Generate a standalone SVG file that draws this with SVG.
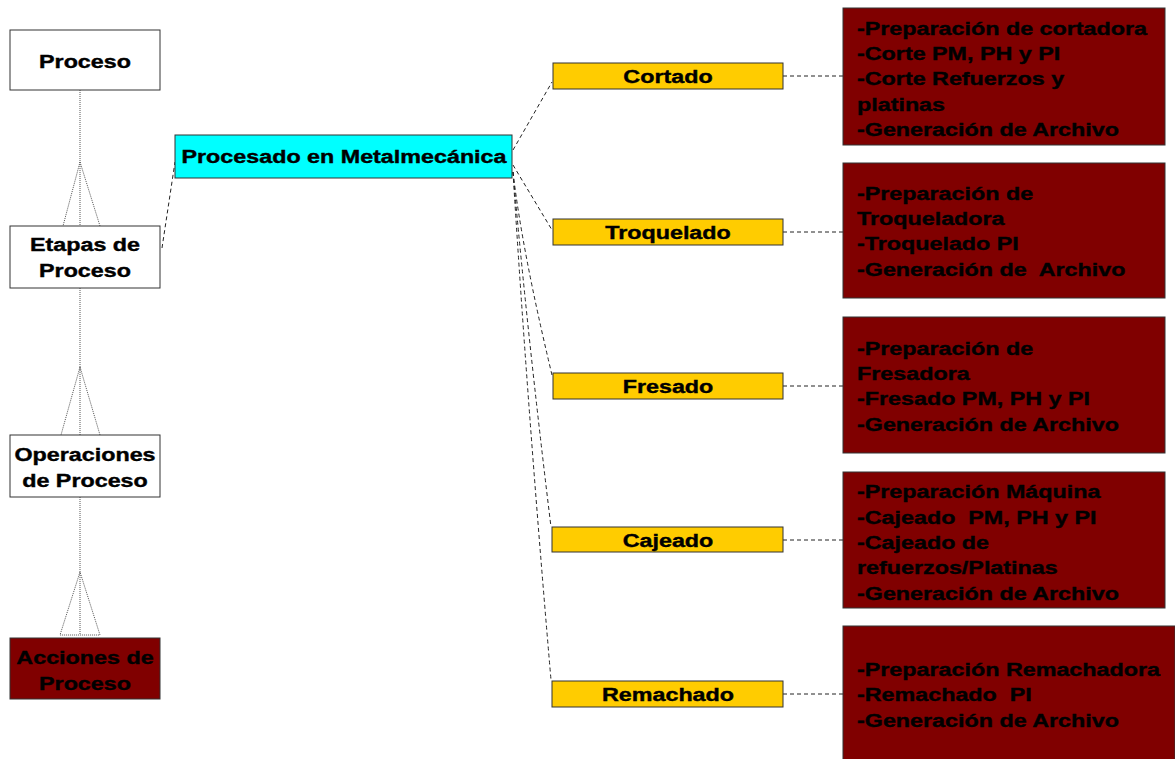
<svg xmlns="http://www.w3.org/2000/svg" width="1175" height="759" viewBox="0 0 1175 759">
  <style>
    .lbl { font-family: "Liberation Sans", Arial, sans-serif; font-weight: bold; font-size: 18.5px; fill: #000; stroke: #000; stroke-width: 0.4; }
    .mid { text-anchor: middle; }
    .white { fill: #fff; stroke: #333; stroke-width: 1; }
    .cyan { fill: #00ffff; stroke: #333; stroke-width: 1; }
    .yellow { fill: #ffcc00; stroke: #333; stroke-width: 1; }
    .maroon { fill: #800000; stroke: #333; stroke-width: 1; }
    .dot { fill: none; stroke: #555; stroke-width: 1; stroke-dasharray: 1 1; }
    .dash { fill: none; stroke: #222; stroke-width: 1; stroke-dasharray: 4 3; }
  </style>

  <rect width="1175" height="759" fill="#fff"/>

  <!-- connectors -->
  <g id="connectors">
    <!-- hierarchy spine with inheritance triangles -->
    <path class="dot" d="M80 90 V226"/>
    <path class="dot" d="M80 162 L63 226 M80 162 L100 226"/>
    <path class="dot" d="M80 288 V435"/>
    <path class="dot" d="M80 367 L61 435 M80 367 L100 435"/>
    <path class="dot" d="M80 497 V635"/>
    <path class="dot" d="M80 572 L60 635 H100 Z"/>
    <!-- stage link -->
    <path class="dash" d="M162 248 L175 162"/>
    <!-- process to operations -->
    <path class="dash" d="M513 150 L552 82"/>
    <path class="dash" d="M513 165 L552 230"/>
    <path class="dash" d="M513 172 Q522 250 552 375"/>
    <path class="dash" d="M513 172 Q527 330 551 527"/>
    <path class="dash" d="M513 172 Q527 400 551 680"/>
    <!-- operations to actions -->
    <path class="dash" d="M783 76 H843"/>
    <path class="dash" d="M783 232 H843"/>
    <path class="dash" d="M783 386 H843"/>
    <path class="dash" d="M783 540 H843"/>
    <path class="dash" d="M783 694 H843"/>
  </g>

  <!-- legend hierarchy -->
  <g id="proceso">
    <rect class="white" x="10" y="30" width="150" height="60"/>
    <g transform="translate(85 0) scale(1.26 1)">
      <text class="lbl mid" x="0" y="68">Proceso</text>
    </g>
  </g>
  <g id="etapas">
    <rect class="white" x="10" y="226" width="150" height="62"/>
    <g transform="translate(85 0) scale(1.26 1)">
      <text class="lbl mid" x="0" y="251">Etapas de</text>
      <text class="lbl mid" x="0" y="277">Proceso</text>
    </g>
  </g>
  <g id="operaciones">
    <rect class="white" x="10" y="435" width="150" height="62"/>
    <g transform="translate(85 0) scale(1.26 1)">
      <text class="lbl mid" x="0" y="461">Operaciones</text>
      <text class="lbl mid" x="0" y="487">de Proceso</text>
    </g>
  </g>
  <g id="acciones">
    <rect class="maroon" x="10" y="638" width="150" height="61"/>
    <g transform="translate(85 0) scale(1.26 1)">
      <text class="lbl mid" x="0" y="664">Acciones de</text>
      <text class="lbl mid" x="0" y="690">Proceso</text>
    </g>
  </g>

  <!-- stage -->
  <g id="metalmecanica">
    <rect class="cyan" x="175" y="135" width="337" height="43"/>
    <g transform="translate(344 0) scale(1.26 1)">
      <text class="lbl mid" x="0" y="163">Procesado en Metalmecánica</text>
    </g>
  </g>

  <!-- operations -->
  <g id="cortado">
    <rect class="yellow" x="553" y="63" width="230" height="26"/>
    <g transform="translate(668 0) scale(1.26 1)">
      <text class="lbl mid" x="0" y="83">Cortado</text>
    </g>
  </g>
  <g id="troquelado">
    <rect class="yellow" x="553" y="219" width="230" height="26"/>
    <g transform="translate(668 0) scale(1.26 1)">
      <text class="lbl mid" x="0" y="239">Troquelado</text>
    </g>
  </g>
  <g id="fresado">
    <rect class="yellow" x="553" y="373" width="230" height="26"/>
    <g transform="translate(668 0) scale(1.26 1)">
      <text class="lbl mid" x="0" y="393">Fresado</text>
    </g>
  </g>
  <g id="cajeado">
    <rect class="yellow" x="552" y="527" width="231" height="25"/>
    <g transform="translate(668 0) scale(1.26 1)">
      <text class="lbl mid" x="0" y="547">Cajeado</text>
    </g>
  </g>
  <g id="remachado">
    <rect class="yellow" x="552" y="681" width="231" height="26"/>
    <g transform="translate(668 0) scale(1.26 1)">
      <text class="lbl mid" x="0" y="701">Remachado</text>
    </g>
  </g>

  <!-- actions -->
  <g id="acc-cortado">
    <rect class="maroon" x="843" y="8" width="322" height="137"/>
    <g transform="translate(857 0) scale(1.26 1)">
      <text class="lbl" x="0" y="35">-Preparación de cortadora</text>
      <text class="lbl" x="0" y="60">-Corte PM, PH y PI</text>
      <text class="lbl" x="0" y="85">-Corte Refuerzos y</text>
      <text class="lbl" x="0" y="111">platinas</text>
      <text class="lbl" x="0" y="136">-Generación de Archivo</text>
    </g>
  </g>
  <g id="acc-troquelado">
    <rect class="maroon" x="843" y="163" width="322" height="135"/>
    <g transform="translate(857 0) scale(1.26 1)">
      <text class="lbl" x="0" y="200">-Preparación de</text>
      <text class="lbl" x="0" y="225">Troqueladora</text>
      <text class="lbl" x="0" y="250">-Troquelado PI</text>
      <text class="lbl" x="0" y="276" xml:space="preserve">-Generación de  Archivo</text>
    </g>
  </g>
  <g id="acc-fresado">
    <rect class="maroon" x="843" y="317" width="322" height="136"/>
    <g transform="translate(857 0) scale(1.26 1)">
      <text class="lbl" x="0" y="355">-Preparación de</text>
      <text class="lbl" x="0" y="380">Fresadora</text>
      <text class="lbl" x="0" y="405">-Fresado PM, PH y PI</text>
      <text class="lbl" x="0" y="431">-Generación de Archivo</text>
    </g>
  </g>
  <g id="acc-cajeado">
    <rect class="maroon" x="843" y="472" width="322" height="136"/>
    <g transform="translate(857 0) scale(1.26 1)">
      <text class="lbl" x="0" y="498">-Preparación Máquina</text>
      <text class="lbl" x="0" y="524" xml:space="preserve">-Cajeado  PM, PH y PI</text>
      <text class="lbl" x="0" y="549">-Cajeado de</text>
      <text class="lbl" x="0" y="574">refuerzos/Platinas</text>
      <text class="lbl" x="0" y="600">-Generación de Archivo</text>
    </g>
  </g>
  <g id="acc-remachado">
    <rect class="maroon" x="843" y="626" width="332" height="140"/>
    <g transform="translate(857 0) scale(1.26 1)">
      <text class="lbl" x="0" y="676">-Preparación Remachadora</text>
      <text class="lbl" x="0" y="701" xml:space="preserve">-Remachado  PI</text>
      <text class="lbl" x="0" y="727">-Generación de Archivo</text>
    </g>
  </g>
</svg>
